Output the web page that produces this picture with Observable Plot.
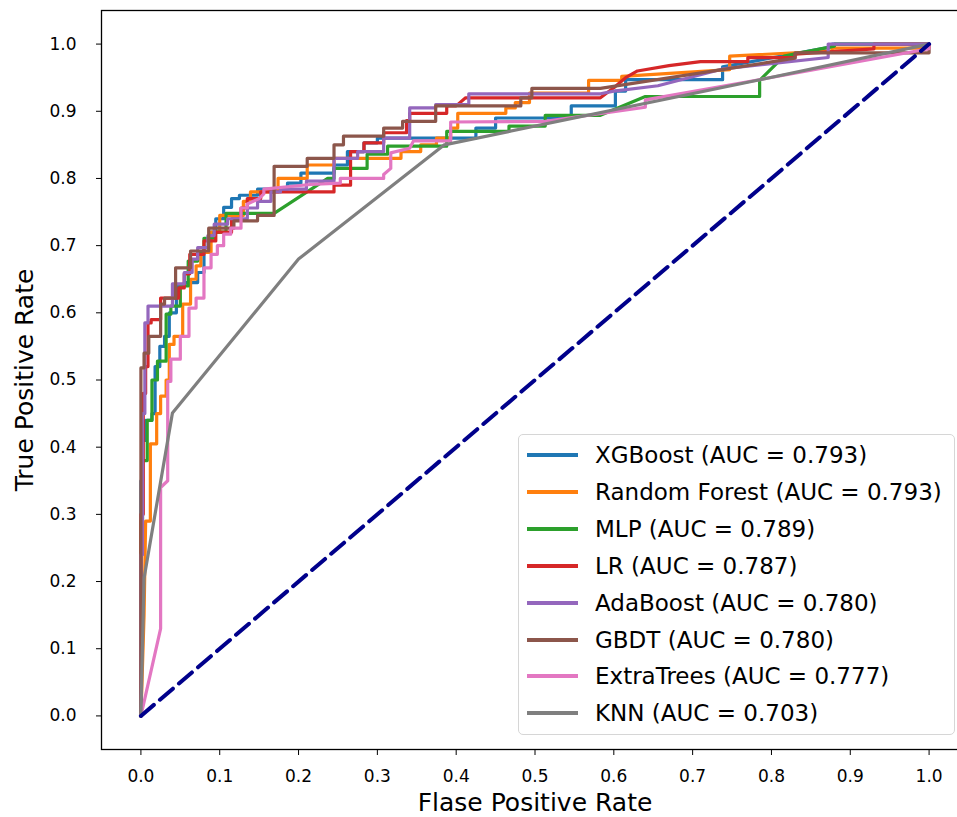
<!DOCTYPE html>
<html><head><meta charset="utf-8">
<script src="https://cdn.jsdelivr.net/npm/d3@7"></script>
<script src="https://cdn.jsdelivr.net/npm/@observablehq/plot@0.6"></script>
<style>
html,body{margin:0;padding:0;background:#fff;overflow:hidden;}
#wrap{position:relative;width:957px;height:817px;overflow:hidden;}
#legend{position:absolute;left:518px;top:434px;width:437px;height:301px;box-sizing:border-box;border:1px solid #d6d6d6;border-radius:5px;background:rgba(255,255,255,0.8);font-family:"DejaVu Sans";font-size:23px;color:#000;}
.row{position:absolute;left:0;height:37px;display:flex;align-items:center;white-space:nowrap;}
.sw{width:51px;height:4px;margin-left:8px;margin-right:17px;}
</style></head>
<body><div id="wrap"></div>
<script>
// ---- data ----
const models = ["XGBoost","Random Forest","MLP","LR","AdaBoost","GBDT","ExtraTrees","KNN"];
const aucs = ["0.793","0.793","0.789","0.787","0.780","0.780","0.777","0.703"];
const colors = ["#1f77b4","#ff7f0e","#2ca02c","#d62728","#9467bd","#8c564b","#e377c2","#7f7f7f"];
const xTicks = [0,0.1,0.2,0.3,0.4,0.5,0.6,0.7,0.8,0.9,1.0];
const yTicks = [0,0.1,0.2,0.3,0.4,0.5,0.6,0.7,0.8,0.9,1.0];

const xgboost = [[0,0],[0,0.35],[0.002,0.35],[0.002,0.41],[0.006,0.41],[0.006,0.44],[0.014,0.44],[0.014,0.45],[0.018,0.45],[0.018,0.52],[0.024,0.52],[0.024,0.55],[0.03,0.55],[0.03,0.565],[0.036,0.565],[0.036,0.60],[0.045,0.60],[0.045,0.64],[0.055,0.64],[0.055,0.645],[0.072,0.645],[0.072,0.66],[0.08,0.66],[0.08,0.69],[0.088,0.69],[0.088,0.72],[0.095,0.72],[0.095,0.74],[0.105,0.74],[0.105,0.757],[0.115,0.757],[0.115,0.77],[0.125,0.77],[0.125,0.775],[0.148,0.775],[0.148,0.784],[0.186,0.784],[0.186,0.793],[0.203,0.793],[0.203,0.808],[0.245,0.808],[0.245,0.82],[0.262,0.82],[0.262,0.84],[0.283,0.84],[0.283,0.853],[0.3,0.853],[0.3,0.86],[0.425,0.86],[0.425,0.875],[0.45,0.875],[0.45,0.89],[0.546,0.89],[0.546,0.908],[0.602,0.908],[0.602,0.93],[0.615,0.93],[0.615,0.947],[0.738,0.947],[0.738,0.966],[0.877,0.996],[0.877,1],[1,1]];
const randomForest = [[0,0],[0.004,0.15],[0.006,0.29],[0.012,0.29],[0.012,0.405],[0.02,0.405],[0.02,0.45],[0.025,0.45],[0.025,0.476],[0.032,0.476],[0.032,0.5],[0.036,0.5],[0.036,0.553],[0.042,0.553],[0.042,0.565],[0.053,0.565],[0.053,0.613],[0.063,0.613],[0.063,0.65],[0.07,0.65],[0.07,0.67],[0.076,0.67],[0.076,0.69],[0.089,0.69],[0.089,0.72],[0.1,0.72],[0.1,0.745],[0.13,0.745],[0.13,0.766],[0.139,0.766],[0.139,0.78],[0.174,0.78],[0.174,0.80],[0.211,0.80],[0.211,0.82],[0.245,0.82],[0.245,0.83],[0.33,0.83],[0.33,0.84],[0.355,0.84],[0.355,0.85],[0.375,0.85],[0.375,0.86],[0.393,0.86],[0.393,0.875],[0.402,0.875],[0.402,0.897],[0.463,0.897],[0.463,0.905],[0.475,0.905],[0.475,0.913],[0.493,0.913],[0.493,0.927],[0.568,0.927],[0.568,0.946],[0.61,0.946],[0.61,0.952],[0.747,0.962],[0.747,0.982],[0.877,0.99],[0.877,0.994],[1,0.994],[1,1]];
const mlp = [[0,0],[0,0.29],[0.002,0.29],[0.002,0.38],[0.008,0.38],[0.008,0.44],[0.014,0.44],[0.014,0.5],[0.021,0.5],[0.021,0.528],[0.032,0.528],[0.032,0.598],[0.038,0.598],[0.038,0.61],[0.05,0.61],[0.05,0.64],[0.06,0.64],[0.06,0.677],[0.072,0.677],[0.072,0.69],[0.08,0.69],[0.08,0.711],[0.093,0.711],[0.093,0.72],[0.108,0.72],[0.108,0.748],[0.169,0.748],[0.237,0.80],[0.245,0.80],[0.245,0.815],[0.287,0.815],[0.287,0.836],[0.313,0.836],[0.313,0.848],[0.388,0.848],[0.388,0.87],[0.467,0.87],[0.467,0.878],[0.513,0.878],[0.513,0.894],[0.583,0.894],[0.64,0.922],[0.785,0.922],[0.785,0.946],[0.816,0.982],[0.88,0.997],[0.88,1],[1,1]];
const lr = [[0,0],[0,0.3],[0.003,0.3],[0.003,0.48],[0.006,0.48],[0.006,0.52],[0.009,0.52],[0.009,0.585],[0.013,0.585],[0.013,0.59],[0.025,0.59],[0.025,0.622],[0.048,0.622],[0.048,0.637],[0.055,0.637],[0.055,0.658],[0.062,0.658],[0.062,0.687],[0.08,0.687],[0.08,0.707],[0.095,0.707],[0.095,0.72],[0.115,0.72],[0.115,0.74],[0.127,0.74],[0.127,0.756],[0.135,0.756],[0.135,0.77],[0.152,0.77],[0.152,0.78],[0.245,0.78],[0.245,0.79],[0.266,0.79],[0.266,0.84],[0.283,0.84],[0.283,0.853],[0.308,0.853],[0.308,0.868],[0.337,0.868],[0.337,0.886],[0.341,0.886],[0.341,0.897],[0.388,0.897],[0.388,0.908],[0.40,0.908],[0.412,0.92],[0.583,0.92],[0.6,0.935],[0.615,0.95],[0.63,0.96],[0.67,0.968],[0.71,0.974],[0.77,0.974],[0.77,0.98],[0.83,0.98],[0.83,0.985],[0.93,0.993],[0.93,1],[1,1]];
const adaBoost = [[0,0],[0,0.24],[0.002,0.24],[0.002,0.45],[0.005,0.45],[0.005,0.585],[0.009,0.585],[0.009,0.61],[0.04,0.61],[0.04,0.643],[0.055,0.643],[0.055,0.66],[0.065,0.66],[0.065,0.68],[0.072,0.68],[0.072,0.697],[0.085,0.697],[0.085,0.715],[0.093,0.715],[0.093,0.732],[0.11,0.732],[0.11,0.74],[0.135,0.74],[0.135,0.756],[0.148,0.756],[0.148,0.766],[0.165,0.766],[0.165,0.78],[0.177,0.78],[0.177,0.784],[0.21,0.784],[0.21,0.796],[0.245,0.796],[0.245,0.83],[0.275,0.83],[0.275,0.84],[0.308,0.84],[0.308,0.86],[0.341,0.86],[0.341,0.905],[0.374,0.905],[0.374,0.91],[0.416,0.91],[0.416,0.926],[0.583,0.926],[0.6,0.93],[0.656,0.938],[0.738,0.963],[0.872,0.98],[0.872,1],[1,1]];
const gbdt = [[0,0],[0,0.518],[0.004,0.518],[0.004,0.54],[0.01,0.54],[0.01,0.565],[0.025,0.565],[0.025,0.613],[0.03,0.613],[0.03,0.622],[0.044,0.622],[0.044,0.667],[0.063,0.667],[0.063,0.692],[0.086,0.692],[0.086,0.726],[0.118,0.726],[0.118,0.737],[0.148,0.737],[0.148,0.745],[0.169,0.745],[0.169,0.818],[0.211,0.818],[0.211,0.83],[0.245,0.83],[0.245,0.85],[0.257,0.85],[0.257,0.863],[0.308,0.863],[0.308,0.875],[0.332,0.875],[0.332,0.885],[0.374,0.885],[0.374,0.908],[0.482,0.908],[0.482,0.92],[0.496,0.92],[0.496,0.934],[0.583,0.934],[0.83,0.979],[0.83,0.987],[1,0.987],[1,1]];
const extraTrees = [[0,0],[0.025,0.13],[0.025,0.34],[0.034,0.35],[0.034,0.498],[0.038,0.498],[0.038,0.531],[0.05,0.531],[0.05,0.565],[0.061,0.565],[0.061,0.607],[0.07,0.607],[0.07,0.622],[0.08,0.622],[0.08,0.667],[0.089,0.667],[0.089,0.687],[0.097,0.687],[0.097,0.70],[0.105,0.70],[0.105,0.717],[0.114,0.717],[0.114,0.726],[0.127,0.726],[0.127,0.756],[0.135,0.756],[0.135,0.762],[0.15,0.77],[0.156,0.777],[0.156,0.784],[0.215,0.791],[0.253,0.793],[0.253,0.80],[0.308,0.80],[0.308,0.806],[0.317,0.815],[0.317,0.838],[0.341,0.845],[0.346,0.856],[0.393,0.856],[0.393,0.884],[0.513,0.885],[0.64,0.906],[0.64,0.917],[0.77,0.944],[1,0.993],[1,1]];
const knn = [[0,0],[0.004,0.205],[0.04,0.451],[0.2,0.68],[0.385,0.85],[0.79,0.948],[1,1]];
const diagonal = [[0,0],[1,1]];

const curves = [xgboost, randomForest, mlp, lr, adaBoost, gbdt, extraTrees, knn];
const rows = curves.flatMap((c, i) => c.map(([fpr, tpr]) => ({model: models[i], fpr, tpr})));

const chart = Plot.plot({
  width: 957, height: 817,
  marginLeft: 101, marginTop: 10, marginBottom: 68, marginRight: -11,
  x: {domain: [-0.05, 1.05]},
  y: {domain: [-0.05, 1.05]},
  color: {domain: models, range: colors},
  style: {fontFamily: "DejaVu Sans", background: "white", color: "black"},
  marks: [
    Plot.axisX({ticks: xTicks, tickFormat: d3.format(".1f"), tickSize: 6, tickPadding: 14, fontSize: 17, label: null}),
    Plot.axisY({ticks: yTicks, tickFormat: d3.format(".1f"), tickSize: 5, tickPadding: 20, fontSize: 17, label: null}),
    Plot.text(["Flase Positive Rate"], {frameAnchor: "bottom", dy: 53, fontSize: 25, lineAnchor: "middle", textAnchor: "middle"}),
    Plot.text(["True Positive Rate"], {frameAnchor: "left", dx: -77, rotate: -90, fontSize: 25, lineAnchor: "middle", textAnchor: "middle"}),
    Plot.line(rows, {x: "fpr", y: "tpr", z: "model", stroke: "model", strokeWidth: 3.2, strokeLinejoin: "round"}),
    Plot.line(diagonal, {x: d => d[0], y: d => d[1], stroke: "#00008b", strokeWidth: 4, strokeDasharray: "17,8"}),
    Plot.frame({stroke: "black", strokeWidth: 1.3})
  ]
});
const wrap = document.getElementById("wrap");
wrap.appendChild(chart);

// legend
const legend = document.createElement("div");
legend.id = "legend";
models.forEach((m, i) => {
  const row = document.createElement("div");
  row.className = "row";
  row.style.top = (21 + 36.9 * i - 18.5 - 1) + "px";
  const sw = document.createElement("div");
  sw.className = "sw";
  sw.style.background = colors[i];
  const t = document.createElement("span");
  t.textContent = `${m} (AUC = ${aucs[i]})`;
  row.appendChild(sw); row.appendChild(t);
  legend.appendChild(row);
});
wrap.appendChild(legend);
</script>
</body></html>
